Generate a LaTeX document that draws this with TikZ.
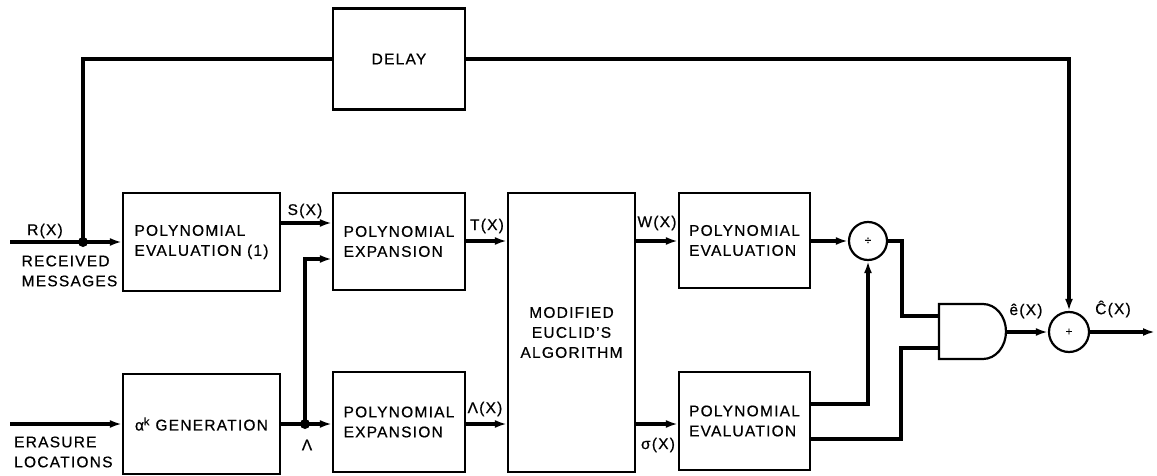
\documentclass[tikz,border=0pt]{standalone}
\usepackage{fontspec}
\setmainfont{Liberation Sans}[LetterSpace=8,FakeBold=0.6]
\usetikzlibrary{arrows.meta}
\begin{document}
\begin{tikzpicture}[x=1pt,y=-1pt,
  sig/.style={line width=3.2pt},
  arr/.style={sig,-{Latex[length=12pt,width=8pt]}},
  blk/.style={draw,line width=2.2pt,rectangle,inner sep=0pt,align=left,font=\fontsize{15.5}{20}\selectfont},
  lbl/.style={inner sep=0pt,font=\fontsize{15.5}{20}\selectfont},
  jdot/.style={circle,fill,inner sep=0pt,minimum size=10pt},
  op/.style={circle,draw,line width=2.2pt,inner sep=0pt,font=\fontsize{12}{12}\selectfont}]
\useasboundingbox (0,0) rectangle (1157,476);
% blocks
\node[blk,minimum width=157pt,minimum height=98pt] (pe1) at (201.5,242) {POLYNOMIAL\\EVALUATION (1)};
\node[blk,minimum width=157pt,minimum height=100pt] (agen) at (201.5,424) {α\textsuperscript{k} GENERATION};
\node[blk,minimum width=132pt,minimum height=97pt] (px1) at (399,241.5) {POLYNOMIAL\\EXPANSION};
\node[blk,minimum width=132pt,minimum height=100pt] (px2) at (399,422) {POLYNOMIAL\\EXPANSION};
\node[blk,minimum width=127pt,minimum height=279pt,align=center] (euc) at (571.5,332.5) {MODIFIED\\EUCLID'S\\ALGORITHM};
\node[blk,minimum width=131pt,minimum height=95pt] (pv1) at (744.5,240.5) {POLYNOMIAL\\EVALUATION};
\node[blk,minimum width=131pt,minimum height=98pt] (pv2) at (744.5,421) {POLYNOMIAL\\EVALUATION};
\node[blk,minimum width=132pt,minimum height=101pt] (delay) at (399,59) {DELAY};
\node[op,minimum size=38pt] (div) at (868,241) {÷};
\node[op,minimum size=40pt] (add) at (1069,332) {+};
% AND gate
\draw[line width=2.2pt] (939,304) -- (983,304) arc[start angle=90,end angle=-90,x radius=23pt,y radius=27.5pt] -- (939,359) -- cycle;
\coordinate (g1) at (939,316);
\coordinate (g2) at (939,348);
\coordinate (gout) at (1006,332);
% helper coordinates
\coordinate (in1) at (10,242);
\coordinate (in2) at (10,424);
\coordinate (j1) at (83,242);
\coordinate (j2) at (305,424);
\coordinate (sY) at (0,223);
\coordinate (lY) at (0,259);
\coordinate (tY) at (0,241);
\coordinate (bY) at (0,424);
\coordinate (uY) at (0,404);
\coordinate (wY) at (0,439);
\coordinate (c2) at (902,316);
\coordinate (c3) at (901,348);
\coordinate (out) at (1155,332);
% connectors
\draw[arr] (in1) -- (pe1.west);
\draw[sig] (j1) |- (delay.west);
\draw[arr] (delay.east) -| (add.north);
\draw[arr] (pe1.east |- sY) -- (px1.west |- sY);
\draw[arr] (in2) -- (agen.west);
\draw[sig] (agen.east |- j2) -- (j2);
\draw[arr] (j2) -- (px2.west |- j2);
\draw[arr] (j2) |- (px1.west |- lY);
\draw[arr] (px1.east |- tY) -- (euc.west |- tY);
\draw[arr] (px2.east |- bY) -- (euc.west |- bY);
\draw[arr] (euc.east |- tY) -- (pv1.west |- tY);
\draw[arr] (euc.east |- bY) -- (pv2.west |- bY);
\draw[arr] (pv1.east |- div) -- (div.west);
\draw[arr] (pv2.east |- uY) -| (div.south);
\draw[sig] (div.east) -| (c2) -- (g1);
\draw[sig] (pv2.east |- wY) -| (c3) -- (g2);
\draw[arr] (gout) -- (add.west);
\draw[arr] (add.east) -- (out);
\node[jdot] (d1) at (j1) {};
\node[jdot] (d2) at (j2) {};
% labels
\node[lbl] (lR) at (45,231) {R(X)};
\node[lbl,align=left] (lRM) at (69.5,271) {RECEIVED\\MESSAGES};
\node[lbl,align=left,anchor=west] (lEL) at (14,452) {ERASURE\\LOCATIONS};
\node[lbl] (lS) at (305,211) {S(X)};
\node[lbl] (lT) at (487,226) {T(X)};
\node[lbl] (lLX) at (485,409) {Λ(X)};
\node[lbl] (lL) at (307,445) {Λ};
\node[lbl] (lW) at (657,223) {W(X)};
\node[lbl] (lsig) at (658,445) {σ(X)};
\node[lbl] (le) at (1026,311) {ê(X)};
\node[lbl] (lC) at (1113,309) {Ĉ(X)};
\end{tikzpicture}
\end{document}
